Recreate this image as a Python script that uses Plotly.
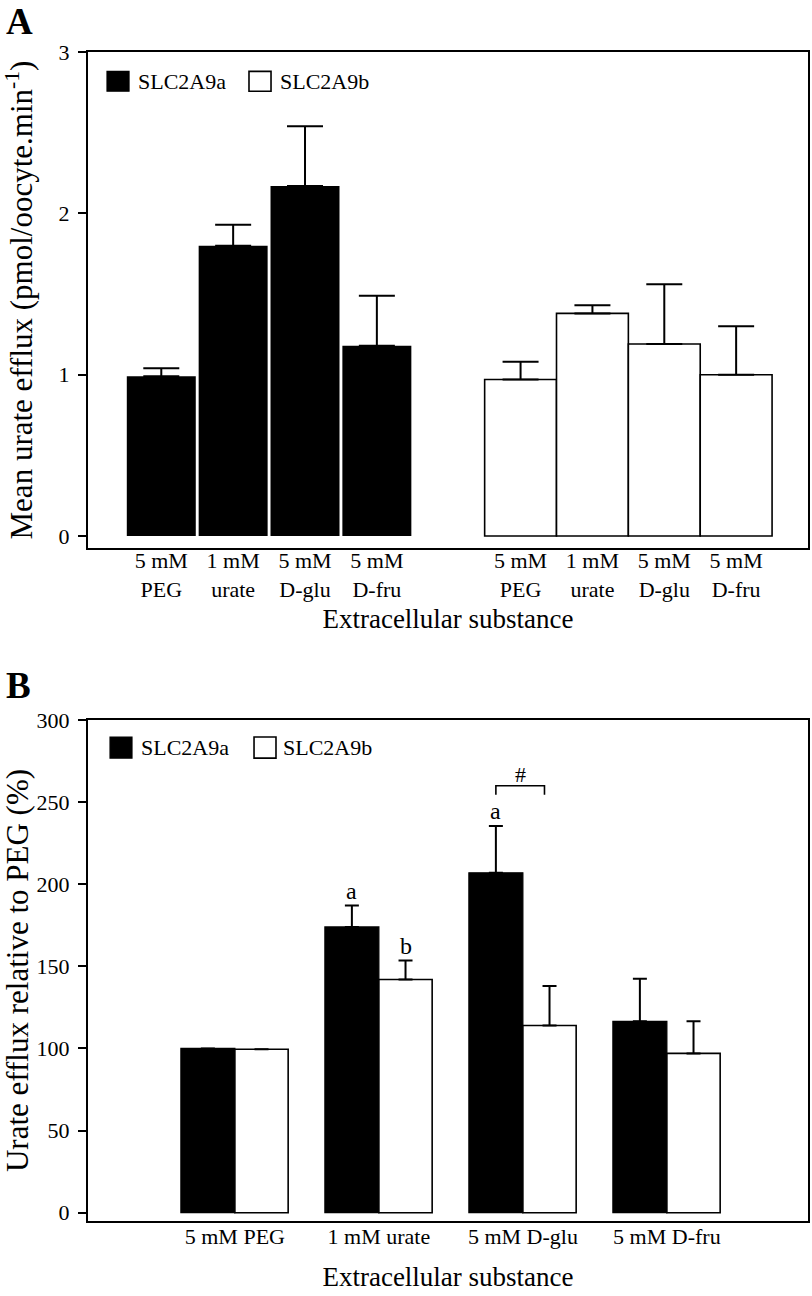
import plotly.graph_objects as go

# ---------------- data ----------------
# Panel A: mean urate efflux (pmol/oocyte.min-1)
a_tick_labels = ["5 mM<br>PEG", "1 mM<br>urate", "5 mM<br>D-glu", "5 mM<br>D-fru"]
a_slc2a9a = [0.99, 1.80, 2.17, 1.18]
a_slc2a9a_err = [0.05, 0.13, 0.37, 0.31]
a_slc2a9b = [0.97, 1.38, 1.19, 1.00]
a_slc2a9b_err = [0.11, 0.05, 0.37, 0.30]

# Panel B: urate efflux relative to PEG (%)
b_categories = ["5 mM PEG", "1 mM urate", "5 mM D-glu", "5 mM D-fru"]
b_slc2a9a = [100, 174, 207, 116.5]
b_slc2a9a_err = [0, 13, 28.5, 26]
b_slc2a9b = [99.5, 142, 114, 97]
b_slc2a9b_err = [0, 11.5, 24, 19.5]

# significance marks (panel B)
b_marks_a = ["", "a", "a", ""]
b_marks_b = ["", "b", "", ""]
bracket_y = [254.5, 260, 260, 254.5]

FONT = "Liberation Serif"

# positions
a_pos_a = list(range(len(a_slc2a9a)))                 # 0..3
a_pos_b = [len(a_slc2a9a) + 1 + i for i in range(len(a_slc2a9b))]  # 5..8
b_pos = list(range(len(b_categories)))
BW = 0.375

fig = go.Figure()

# ---- Panel A ----
fig.add_trace(go.Bar(
    x=a_pos_a, y=a_slc2a9a, width=0.96, offset=-0.48,
    marker=dict(color="black", line=dict(width=0)),
    error_y=dict(type="data", array=a_slc2a9a_err, arrayminus=[0] * 4,
                 symmetric=False, color="black", thickness=2, width=18),
    name="SLC2A9a", xaxis="x", yaxis="y"))
fig.add_trace(go.Bar(
    x=a_pos_b, y=a_slc2a9b, width=1.0, offset=-0.5,
    marker=dict(color="white", line=dict(color="black", width=1.6)),
    error_y=dict(type="data", array=a_slc2a9b_err, arrayminus=[0] * 4,
                 symmetric=False, color="black", thickness=2, width=18),
    name="SLC2A9b", xaxis="x", yaxis="y"))

# ---- Panel B ----
fig.add_trace(go.Bar(
    x=b_pos, y=b_slc2a9a, width=BW, offset=-BW,
    marker=dict(color="black", line=dict(color="black", width=1.2)),
    error_y=dict(type="data", array=b_slc2a9a_err, arrayminus=[0] * 4,
                 symmetric=False, color="black", thickness=2, width=7),
    name="SLC2A9a", xaxis="x2", yaxis="y2"))
fig.add_trace(go.Bar(
    x=b_pos, y=b_slc2a9b, width=BW - 0.005, offset=0,
    marker=dict(color="white", line=dict(color="black", width=1.6)),
    error_y=dict(type="data", array=b_slc2a9b_err, arrayminus=[0] * 4,
                 symmetric=False, color="black", thickness=2, width=7),
    name="SLC2A9b", xaxis="x2", yaxis="y2"))

# bracket for "#"
glu = b_pos[2]
fig.add_trace(go.Scatter(
    x=[glu - BW / 2, glu - BW / 2, glu + 0.15, glu + 0.15], y=bracket_y,
    mode="lines", line=dict(color="black", width=1.6),
    hoverinfo="skip", xaxis="x2", yaxis="y2"))

annotations = []
# significance letters
for i in range(len(b_categories)):
    if b_marks_a[i]:
        annotations.append(dict(x=b_pos[i] - BW / 2, y=b_slc2a9a[i] + b_slc2a9a_err[i],
                                xref="x2", yref="y2", text=b_marks_a[i], showarrow=False,
                                yanchor="bottom", yshift=0,
                                font=dict(family=FONT, size=24, color="black")))
    if b_marks_b[i]:
        annotations.append(dict(x=b_pos[i] + BW / 2, y=b_slc2a9b[i] + b_slc2a9b_err[i],
                                xref="x2", yref="y2", text=b_marks_b[i], showarrow=False,
                                yanchor="bottom", yshift=0,
                                font=dict(family=FONT, size=24, color="black")))
annotations.append(dict(x=glu - 0.02, y=bracket_y[1], xref="x2", yref="y2", text="#",
                        showarrow=False, yanchor="bottom", yshift=-3,
                        font=dict(family=FONT, size=22, color="black")))

# panel letters
annotations.append(dict(x=-0.117, y=1.0265, xref="paper", yref="paper", text="<b>A</b>",
                        showarrow=False, xanchor="left", yanchor="middle",
                        font=dict(family=FONT, size=37, color="black")))
annotations.append(dict(x=-0.117, y=0.4577, xref="paper", yref="paper", text="<b>B</b>",
                        showarrow=False, xanchor="left", yanchor="middle",
                        font=dict(family=FONT, size=37, color="black")))

shapes = []
# manual legends
def add_legend(xd, yd, sq_a, txt_a, sq_b, txt_b, y0, y1, ym):
    shapes.append(dict(type="rect", xref=xd, yref=yd, x0=sq_a[0], x1=sq_a[1], y0=y0, y1=y1,
                       fillcolor="black", line=dict(color="black", width=1.2)))
    shapes.append(dict(type="rect", xref=xd, yref=yd, x0=sq_b[0], x1=sq_b[1], y0=y0, y1=y1,
                       fillcolor="white", line=dict(color="black", width=1.6)))
    annotations.append(dict(x=txt_a, y=ym, xref=xd, yref=yd, text="SLC2A9a", showarrow=False,
                            xanchor="left", yanchor="middle",
                            font=dict(family=FONT, size=22, color="black")))
    annotations.append(dict(x=txt_b, y=ym, xref=xd, yref=yd, text="SLC2A9b", showarrow=False,
                            xanchor="left", yanchor="middle",
                            font=dict(family=FONT, size=22, color="black")))

add_legend("x domain", "y domain", (0.0264, 0.0570), 0.0667, (0.2236, 0.2542), 0.2639,
           0.921, 0.961, 0.940)
add_legend("x2 domain", "y2 domain", (0.0306, 0.0611), 0.0708, (0.2306, 0.2611), 0.2681,
           0.924, 0.966, 0.945)

axis_common = dict(showline=True, mirror=True, linecolor="black", linewidth=2,
                   showgrid=False, zeroline=False, automargin=False,
                   tickfont=dict(family=FONT, size=22, color="black"))

fig.update_layout(
    width=812, height=1296,
    margin=dict(l=88, r=4, t=52, b=75),
    plot_bgcolor="white", paper_bgcolor="white",
    showlegend=False,
    font=dict(family=FONT, color="black"),
    xaxis=dict(domain=[0, 1], anchor="y", range=[-1.02, 9.0],
               tickvals=a_pos_a + a_pos_b, ticktext=a_tick_labels + a_tick_labels,
               ticks="", ticklabelstandoff=-8,
               title=dict(text="Extracellular substance", standoff=8,
                          font=dict(family=FONT, size=27, color="black")),
               **axis_common),
    yaxis=dict(domain=[0.5757, 1], anchor="x", range=[-0.074, 3.0],
               tickvals=[0, 1, 2, 3], ticks="outside", ticklen=8, tickwidth=2,
               tickcolor="black", ticklabelstandoff=4,
               title=dict(text="Mean urate efflux (pmol/oocyte.min<sup>-1</sup>)", standoff=46,
                          font=dict(family=FONT, size=31, color="black")),
               **axis_common),
    xaxis2=dict(domain=[0, 1], anchor="y2", range=[-1.02, 3.98],
                tickvals=b_pos, ticktext=b_categories, ticks="", ticklabelstandoff=-5,
                title=dict(text="Extracellular substance", standoff=19,
                           font=dict(family=FONT, size=27, color="black")),
                **axis_common),
    yaxis2=dict(domain=[0, 0.42857], anchor="x2", range=[-5.05, 300],
                tickvals=[0, 50, 100, 150, 200, 250, 300], ticks="outside", ticklen=8,
                tickwidth=2, tickcolor="black", ticklabelstandoff=4,
                title=dict(text="Urate efflux relative to PEG (%)", standoff=20,
                           font=dict(family=FONT, size=31, color="black")),
                **axis_common),
    annotations=annotations,
    shapes=shapes,
)

fig.write_html("out.html",
               config={"displayModeBar": False},
               post_script="document.body.style.margin='0';document.body.style.padding='0';")
